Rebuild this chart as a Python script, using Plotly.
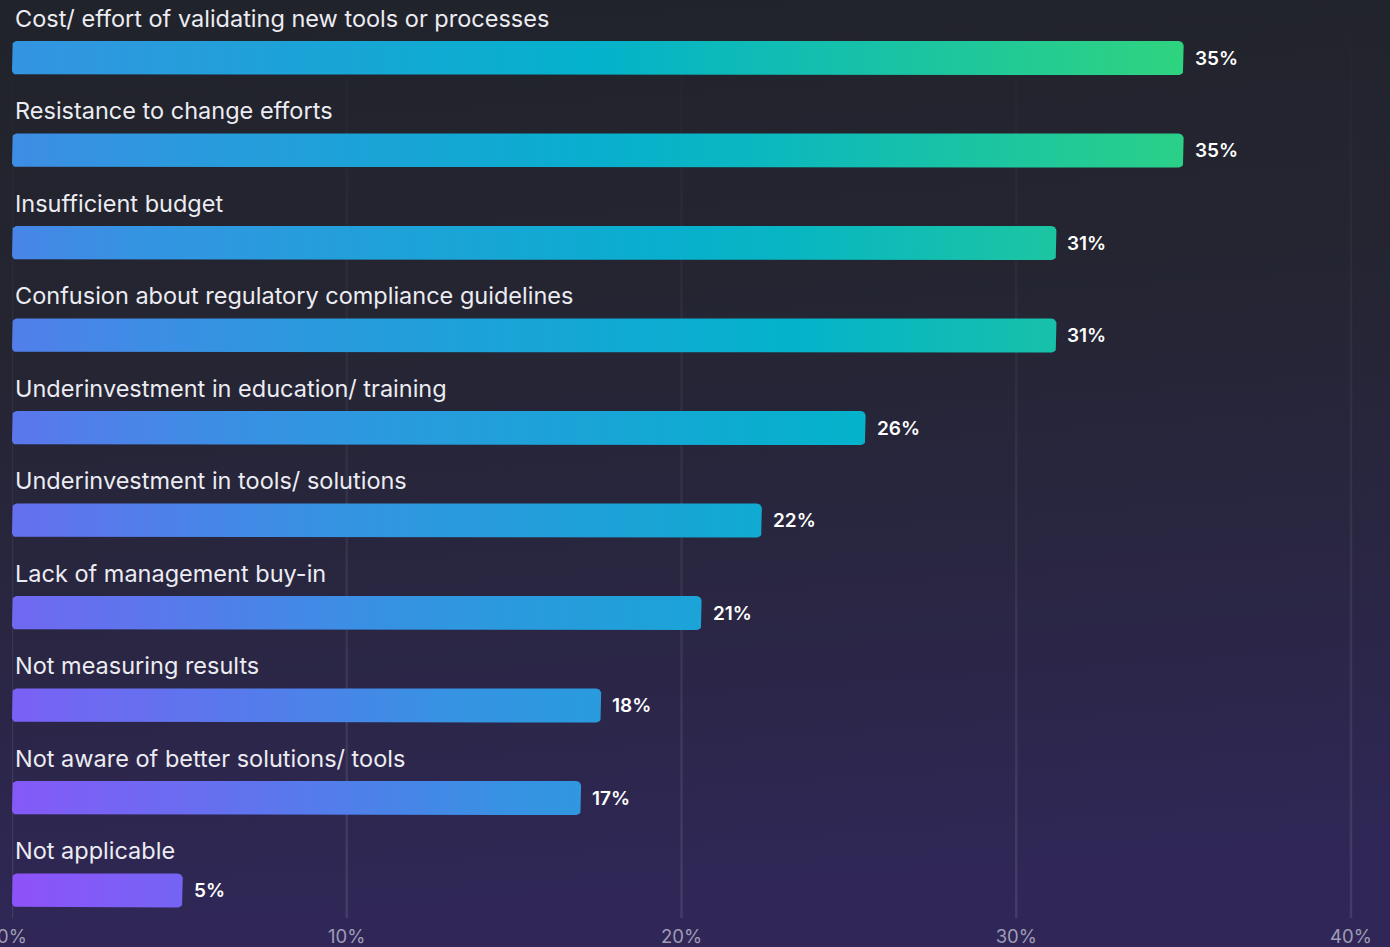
import base64
import numpy as np
import plotly.graph_objects as go

categories = [
    "Cost/ effort of validating new tools or processes",
    "Resistance to change efforts",
    "Insufficient budget",
    "Confusion about regulatory compliance guidelines",
    "Underinvestment in education/ training",
    "Underinvestment in tools/ solutions",
    "Lack of management buy-in",
    "Not measuring results",
    "Not aware of better solutions/ tools",
    "Not applicable",
]
values = [35.0, 35.0, 31.2, 31.2, 25.5, 22.4, 20.6, 17.6, 17.0, 5.1]
value_labels = ["35%", "35%", "31%", "31%", "26%", "22%", "21%", "18%", "17%", "5%"]
tick_vals = [0, 10, 20, 30, 40]
tick_labels = ["0%", "10%", "20%", "30%", "40%"]

# ---- style ----
W, H = 1390, 947
ML, MR, MT, MB = 12, 0, 0, 29
PX_X = 33.475          # px per percent
PX_Y = 92.5            # px per row
X_MAX = (W - ML - MR) / PX_X
Y0 = -58 / PX_Y
Y1 = Y0 + (H - MT - MB) / PX_Y
BAR_HALF = 17 / PX_Y
RADIUS = 5
FONT = "Inter"

stops = [(0.0, (142, 82, 250)), (0.33, (52, 148, 226)), (0.66, (3, 178, 204)), (1.0, (47, 212, 127))]


def color_at(t):
    t = min(max(t, 0), 1)
    for (a, ca), (b, cb) in zip(stops[:-1], stops[1:]):
        if t <= b:
            f = (t - a) / (b - a)
            c = [round(ca[k] + (cb[k] - ca[k]) * f) for k in range(3)]
            return "rgb(%d,%d,%d)" % tuple(c)
    return "rgb(%d,%d,%d)" % stops[-1][1]


def grad_t(xv, yi):
    xpx = xv * PX_X
    ypx = yi * PX_Y
    return 0.33 + 0.00057 * xpx - 0.0004 * ypx


def rounded_rect(x0, x1, yc, half):
    rx, ry = RADIUS / PX_X, RADIUS / PX_Y
    ya, yb = yc - half, yc + half
    xs, ys = [], []
    corners = [
        (x1 - rx, ya + ry, -90, 0),
        (x1 - rx, yb - ry, 0, 90),
        (x0 + rx, yb - ry, 90, 180),
        (x0 + rx, ya + ry, 180, 270),
    ]
    for cx, cy, a0, a1 in corners:
        for a in np.linspace(np.radians(a0), np.radians(a1), 7):
            xs.append(cx + rx * np.cos(a))
            ys.append(cy + ry * np.sin(a))
    xs.append(xs[0])
    ys.append(ys[0])
    return xs, ys


fig = go.Figure()

# fading vertical gridlines
gw = 1.2 / PX_X
for tv in tick_vals:
    fig.add_trace(go.Scatter(
        x=[tv - gw, tv + gw, tv + gw, tv - gw, tv - gw],
        y=[Y0, Y0, Y1, Y1, Y0], mode="lines", line=dict(width=0),
        fill="toself", fillcolor="rgba(255,255,255,0.06)",
        fillgradient=dict(type="vertical", start=Y0, stop=Y1,
                          colorscale=[[0, "rgba(255,255,255,0.0)"], [0.25, "rgba(255,255,255,0.03)"],
                                      [1, "rgba(255,255,255,0.10)"]]),
        hoverinfo="skip", showlegend=False,
    ))

for i, (cat, v) in enumerate(zip(categories, values)):
    xs, ys = rounded_rect(0, v, i, BAR_HALF)
    t0, t1 = grad_t(0, i), grad_t(v, i)
    cs = [[k / 8, color_at(t0 + (t1 - t0) * k / 8)] for k in range(9)]
    fig.add_trace(go.Scatter(
        x=xs, y=ys, mode="lines", line=dict(width=0),
        fill="toself", fillcolor=cs[4][1],
        fillgradient=dict(type="horizontal", colorscale=cs, start=0, stop=v),
        hoverinfo="skip", showlegend=False,
    ))
    fig.add_annotation(x=0, y=i - 0.432, text=cat, xanchor="left", yanchor="middle",
                       xshift=1, showarrow=False,
                       font=dict(family=FONT, size=23.5, color="#ececf2"))
    fig.add_annotation(x=v, y=i, text=value_labels[i], xanchor="left",
                       yanchor="middle", xshift=9, showarrow=False,
                       font=dict(family=FONT, size=19, weight=600, color="#ffffff"))

svg = (
    '<svg xmlns="http://www.w3.org/2000/svg" width="1390" height="947">'
    '<defs><linearGradient id="g" x1="0" y1="0" x2="0.1" y2="1">'
    '<stop offset="0" stop-color="#21232b"/>'
    '<stop offset="0.35" stop-color="#242531"/>'
    '<stop offset="0.7" stop-color="#2a2644"/>'
    '<stop offset="1" stop-color="#302758"/>'
    '</linearGradient></defs>'
    '<rect width="1390" height="947" fill="url(#g)"/></svg>'
)
src = "data:image/svg+xml;base64," + base64.b64encode(svg.encode()).decode()
pw, ph = W - ML - MR, H - MT - MB
fig.add_layout_image(dict(source=src, xref="paper", yref="paper",
                          x=-ML / pw, y=1 + MT / ph, sizex=W / pw, sizey=H / ph,
                          xanchor="left", yanchor="top", sizing="stretch", layer="below"))

fig.update_layout(
    width=W, height=H,
    margin=dict(l=ML, r=MR, t=MT, b=MB, pad=0),
    paper_bgcolor="#272538", plot_bgcolor="rgba(0,0,0,0)",
    showlegend=False,
    xaxis=dict(range=[0, X_MAX], tickvals=tick_vals, ticktext=tick_labels,
               showgrid=False, zeroline=False, showline=False, ticks="",
               automargin=False, ticklabeloverflow="allow", ticklabelstandoff=5,
               tickfont=dict(family=FONT, size=18.5, color="#9e9cb4"), fixedrange=True),
    yaxis=dict(range=[Y1, Y0], visible=False, fixedrange=True),
)

fig.write_html("out.html")
